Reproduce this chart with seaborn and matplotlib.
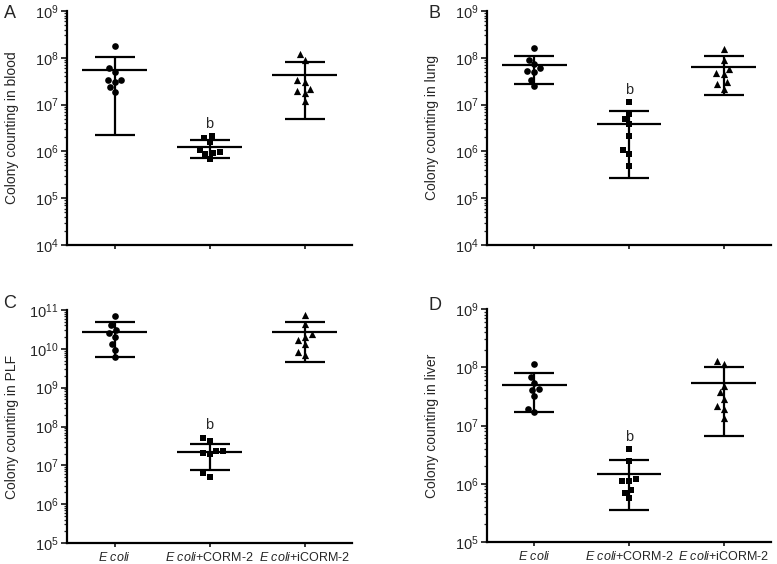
import numpy as np
import pandas as pd
import matplotlib
matplotlib.use('Agg')
import matplotlib.pyplot as plt
from matplotlib.ticker import LogLocator, NullFormatter
import seaborn as sns

groups = ['E coli', 'E coli+CORM-2', 'E coli+iCORM-2']
group_labels = [r'$\it{E\ coli}$', r'$\it{E\ coli}$+CORM-2', r'$\it{E\ coli}$+iCORM-2']
markers = ['o', 's', '^']

# colony counts per mouse
blood_ecoli = [1.76e8, 6.0e7, 4.9e7, 3.3e7, 3.4e7, 3.0e7, 2.4e7, 1.9e7]
blood_corm = [1.95e6, 2.1e6, 1.56e6, 1.07e6, 9.1e5, 8.8e5, 9.6e5, 6.8e5]
blood_icorm = [1.19e8, 9.0e7, 3.0e7, 3.4e7, 2.0e7, 2.2e7, 1.75e7, 1.18e7]
blood_mean = [5.4e7, 1.26e6, 4.3e7]
blood_upper = [1.03e8, 1.75e6, 8.3e7]
blood_lower = [2.2e6, 7.1e5, 4.9e6]

lung_ecoli = [1.6e8, 9.0e7, 7.4e7, 6.0e7, 5.3e7, 5.0e7, 3.3e7, 2.5e7]
lung_corm = [1.12e7, 6.3e6, 4.9e6, 3.8e6, 2.1e6, 1.07e6, 8.8e5, 4.9e5]
lung_icorm = [1.52e8, 9.0e7, 5.7e7, 4.8e7, 4.4e7, 3.0e7, 2.7e7, 2.2e7]
lung_mean = [7.0e7, 3.8e6, 6.3e7]
lung_upper = [1.1e8, 7.4e6, 1.09e8]
lung_lower = [2.8e7, 2.7e5, 1.6e7]

plf_ecoli = [7.1e10, 4.1e10, 3.05e10, 2.6e10, 2.0e10, 1.35e10, 9.3e9, 6.1e9]
plf_corm = [5.1e7, 4.2e7, 2.4e7, 2.1e7, 2.0e7, 2.3e7, 6.2e6, 5.1e6]
plf_icorm = [7.4e10, 4.4e10, 2.4e10, 2.05e10, 1.7e10, 1.33e10, 8.5e9, 6.9e9]
plf_mean = [2.7e10, 2.15e7, 2.7e10]
plf_upper = [4.8e10, 3.55e7, 4.9e10]
plf_lower = [6.2e9, 7.8e6, 4.5e9]

liver_ecoli = [1.14e8, 6.7e7, 5.3e7, 4.1e7, 4.3e7, 3.2e7, 1.95e7, 1.7e7]
liver_corm = [3.9e6, 2.5e6, 1.1e6, 1.1e6, 1.2e6, 7.8e5, 7.0e5, 5.7e5]
liver_icorm = [1.3e8, 1.14e8, 4.7e7, 3.7e7, 2.9e7, 2.2e7, 1.95e7, 1.33e7]
liver_mean = [5.0e7, 1.45e6, 5.3e7]
liver_upper = [8.1e7, 2.56e6, 1.01e8]
liver_lower = [1.7e7, 3.6e5, 6.6e6]

panels = [
    ('A', 'Colony counting in blood', (1e4, 1e9), [blood_ecoli, blood_corm, blood_icorm],
     blood_mean, blood_upper, blood_lower),
    ('B', 'Colony counting in lung', (1e4, 1e9), [lung_ecoli, lung_corm, lung_icorm],
     lung_mean, lung_upper, lung_lower),
    ('C', 'Colony counting in PLF', (1e5, 1e11), [plf_ecoli, plf_corm, plf_icorm],
     plf_mean, plf_upper, plf_lower),
    ('D', 'Colony counting in liver', (1e5, 1e9), [liver_ecoli, liver_corm, liver_icorm],
     liver_mean, liver_upper, liver_lower),
]

sns.set_style('ticks')
plt.rcParams['font.family'] = ['Liberation Sans', 'DejaVu Sans']
plt.rcParams['mathtext.fontset'] = 'custom'
plt.rcParams['mathtext.rm'] = 'Liberation Sans'
plt.rcParams['mathtext.it'] = 'Liberation Sans:italic'
plt.rcParams['mathtext.bf'] = 'Liberation Sans:bold'

W, H = 777, 564
fig = plt.figure(figsize=(W / 100, H / 100), dpi=100)

# axes boxes in pixels: left, top, right, bottom
boxes = [(67, 11, 352, 245), (487, 11, 771, 245), (67, 310, 352, 543), (487, 309, 771, 542)]
letter_pos = [(10, 14), (435, 14), (10, 304), (435, 305)]
text_color = '#262626'

for k, (letter, ylabel, ylim, pts, mean, upper, lower) in enumerate(panels):
    l, t, r, b = boxes[k]
    ax = fig.add_axes([l / W, 1 - b / H, (r - l) / W, (b - t) / H])
    ax.set_yscale('log')
    ax.set_ylim(*ylim)
    ax.set_xlim(-0.5, 2.5)

    for i, g in enumerate(groups):
        df = pd.DataFrame({'group': [g] * len(pts[i]), 'cfu': pts[i]})
        sns.swarmplot(data=df, x='group', y='cfu', order=groups, marker=markers[i],
                      color='black', size=4.8 if i != 2 else 5.2, linewidth=0, ax=ax, zorder=4)
    ax.set_xlim(-0.5, 2.5)
    ax.set_ylim(*ylim)

    x = np.arange(3)
    mean = np.array(mean)
    ax.errorbar(x, mean, yerr=[mean - np.array(lower), np.array(upper) - mean], fmt='none',
                ecolor='black', elinewidth=1.6, capsize=14.5, capthick=1.6, zorder=3)
    ax.hlines(mean, x - 0.34, x + 0.34, color='black', lw=1.6, zorder=3)

    top = max(upper[1], max(pts[1]))
    ax.annotate('b', xy=(1, top), xytext=(0, 4), textcoords='offset points',
                ha='center', va='bottom', fontsize=10.5, color=text_color)

    ax.yaxis.set_major_locator(LogLocator(base=10, numticks=12))
    ax.yaxis.set_minor_locator(LogLocator(base=10, subs=np.arange(2, 10), numticks=12))
    ax.yaxis.set_minor_formatter(NullFormatter())
    ax.set_xticks(x)
    if k >= 2:
        ax.set_xticklabels(group_labels, fontsize=9, color=text_color)
    else:
        ax.set_xticklabels([])
    ax.set_xlabel('')
    ax.set_ylabel(ylabel, fontsize=10, color=text_color)
    ax.yaxis.set_label_coords(-48 / (r - l), 0.5)

    sns.despine(ax=ax)
    for s in ['left', 'bottom']:
        ax.spines[s].set_linewidth(1.6)
        ax.spines[s].set_color('black')
    ax.tick_params(axis='y', which='major', length=4, width=1.3, labelsize=10.5,
                   labelcolor=text_color, pad=2)
    ax.tick_params(axis='y', which='minor', length=2.2, width=0.9)
    ax.tick_params(axis='x', which='major', length=3, width=1.3, pad=2.5)

    fig.text(letter_pos[k][0] / W, 1 - letter_pos[k][1] / H, letter, fontsize=13,
             ha='center', va='center', color=text_color)

fig.savefig('out.png', dpi=100)
